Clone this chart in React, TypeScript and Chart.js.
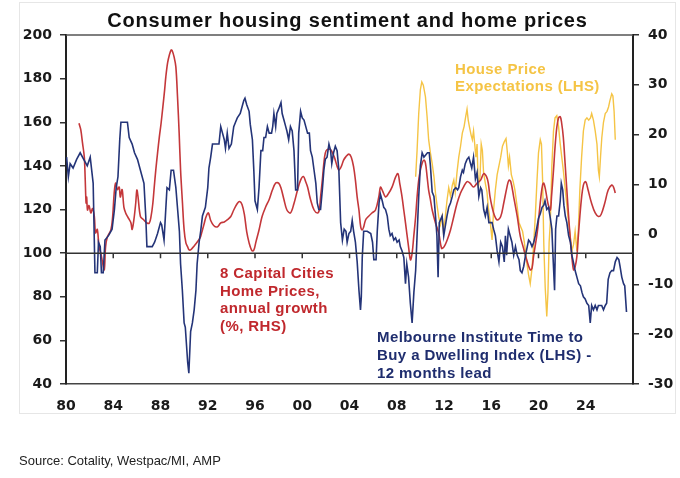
import { useEffect, useRef } from "react";
import { Chart, registerables } from "chart.js";

Chart.register(...registerables);

// Melbourne Institute Time to Buy a Dwelling Index (LHS), 12 months lead: [year, index]
const miSeries: number[][] = [
  [1980.05,144],[1980.2,135],[1980.35,141],[1980.6,139],[1980.9,143],[1981.2,146],[1981.5,143],[1981.8,140],[1982.05,144],[1982.3,132],[1982.45,91],[1982.65,91],[1982.75,105],[1982.9,103],[1983.0,91],[1983.15,91],[1983.3,106],[1983.6,108],[1983.9,111],[1984.1,120],[1984.25,130],[1984.4,135],[1984.55,152],[1984.65,160],[1985.2,160],[1985.35,153],[1985.6,150],[1985.8,146],[1986.05,143],[1986.3,138],[1986.6,132],[1986.75,117],[1986.85,103],[1987.3,103],[1987.5,105],[1987.75,109],[1988.0,114],[1988.1,113],[1988.3,106],[1988.55,130],[1988.75,129],[1988.9,138],[1989.1,138],[1989.3,130],[1989.45,120],[1989.6,110],[1989.7,95],[1989.85,83],[1990.0,68],[1990.1,66],[1990.3,50],[1990.4,45],[1990.55,64],[1990.7,68],[1990.85,74],[1991.0,83],[1991.1,95],[1991.27,105],[1991.4,110],[1991.55,117],[1991.8,121],[1992.0,130],[1992.1,139],[1992.25,144],[1992.4,150],[1992.7,150],[1992.95,150],[1993.1,158],[1993.25,155],[1993.4,152],[1993.5,148],[1993.65,155],[1993.8,148],[1994.0,150],[1994.2,158],[1994.35,160],[1994.5,162],[1994.75,164],[1994.9,167],[1995.05,170],[1995.15,171],[1995.3,168],[1995.5,165],[1995.6,159],[1995.78,152],[1995.9,138],[1996.0,124],[1996.2,120],[1996.34,130],[1996.5,147],[1996.65,147],[1996.76,153],[1996.9,153],[1997.05,158],[1997.2,155],[1997.4,155],[1997.5,158],[1997.6,164],[1997.75,158],[1997.85,164],[1998.0,166],[1998.2,169],[1998.3,164],[1998.45,161],[1998.6,158],[1998.7,156],[1998.85,152],[1999.0,158],[1999.15,156],[1999.3,147],[1999.44,129],[1999.6,129],[1999.7,155],[1999.86,165],[2000.0,162],[2000.15,161],[2000.3,158],[2000.45,155],[2000.6,155],[2000.7,147],[2000.85,144],[2001.0,138],[2001.15,132],[2001.27,123],[2001.4,120],[2001.55,120],[2001.7,129],[2001.83,138],[2001.95,143],[2002.1,144],[2002.26,150],[2002.4,147],[2002.5,141],[2002.65,146],[2002.8,149],[2002.95,147],[2003.1,138],[2003.25,114],[2003.4,106],[2003.55,111],[2003.7,110],[2003.8,105],[2003.95,109],[2004.1,110],[2004.23,115],[2004.35,110],[2004.5,105],[2004.65,96],[2004.8,83],[2004.93,74],[2005.0,80],[2005.08,98],[2005.2,110],[2005.5,110],[2005.8,109],[2005.95,105],[2006.06,97],[2006.25,97],[2006.35,110],[2006.5,123],[2006.62,127],[2006.77,124],[2006.9,121],[2007.05,120],[2007.2,117],[2007.33,111],[2007.45,108],[2007.6,109],[2007.75,106],[2007.9,107],[2008.03,105],[2008.2,106],[2008.3,103],[2008.45,101],[2008.6,98],[2008.74,86],[2008.85,95],[2009.0,89],[2009.15,77],[2009.3,68],[2009.45,82],[2009.6,92],[2009.72,108],[2009.86,126],[2010.0,140],[2010.15,146],[2010.3,144],[2010.45,145],[2010.6,146],[2010.75,146],[2010.85,140],[2011.0,128],[2011.15,126],[2011.28,117],[2011.4,108],[2011.5,89],[2011.6,114],[2011.84,117],[2011.98,108],[2012.1,112],[2012.25,117],[2012.4,121],[2012.55,123],[2012.7,126],[2012.83,129],[2013.0,130],[2013.15,129],[2013.25,130],[2013.4,135],[2013.55,138],[2013.65,137],[2013.8,141],[2013.95,143],[2014.1,144],[2014.25,141],[2014.35,139],[2014.5,144],[2014.66,134],[2014.8,137],[2014.95,126],[2015.1,130],[2015.2,129],[2015.36,120],[2015.5,117],[2015.65,121],[2015.8,114],[2016.07,114],[2016.2,111],[2016.35,108],[2016.5,101],[2016.65,96],[2016.8,105],[2016.95,103],[2017.1,96],[2017.2,108],[2017.3,99],[2017.45,111],[2017.6,108],[2017.75,105],[2017.9,99],[2018.05,103],[2018.2,99],[2018.35,97],[2018.46,92],[2018.6,91],[2018.75,94],[2018.9,99],[2019.05,103],[2019.16,106],[2019.3,105],[2019.45,103],[2019.6,105],[2019.73,108],[2019.87,112],[2020.0,116],[2020.15,118],[2020.3,121],[2020.45,122],[2020.55,124],[2020.7,120],[2020.85,121],[2021.0,116],[2021.13,111],[2021.25,96],[2021.36,83],[2021.45,111],[2021.56,117],[2021.7,117],[2021.84,124],[2021.93,132],[2022.05,129],[2022.15,122],[2022.27,117],[2022.4,114],[2022.55,108],[2022.7,105],[2022.83,99],[2022.95,96],[2023.1,92],[2023.25,89],[2023.4,86],[2023.55,85],[2023.68,82],[2023.8,80],[2023.95,79],[2024.1,77],[2024.25,76],[2024.38,68],[2024.5,76],[2024.65,74],[2024.8,76],[2024.95,74],[2025.07,76],[2025.2,76],[2025.35,76],[2025.5,74],[2025.65,76],[2025.77,77],[2025.9,88],[2026.05,91],[2026.2,92],[2026.35,92],[2026.5,96],[2026.65,98],[2026.8,97],[2026.9,94],[2027.05,89],[2027.2,86],[2027.3,85],[2027.45,73],
];

// 8 Capital Cities Home Prices, annual growth (%, RHS): [year, %]
const priceSeries: number[][] = [
  [1981.1,22.3],[1981.25,21],[1981.4,18.3],[1981.55,15.5],[1981.62,11.5],[1981.7,6.3],[1981.75,7.5],[1981.82,4.9],[1981.95,5.8],[1982.1,4.3],[1982.25,5.2],[1982.4,3.6],[1982.5,0.3],[1982.65,1.0],[1982.8,-2.5],[1982.95,-3.8],[1983.1,-5.7],[1983.24,-7.1],[1983.35,-2.5],[1983.5,-0.5],[1983.8,0.9],[1983.95,3.6],[1984.08,8.3],[1984.2,10.3],[1984.35,9],[1984.5,9.5],[1984.6,7.5],[1984.75,9],[1984.9,5.5],[1985.05,4.3],[1985.2,3.6],[1985.35,3],[1985.5,2.3],[1985.6,1],[1985.75,3],[1985.9,6.2],[1986.0,8.9],[1986.1,7.5],[1986.3,3.6],[1986.55,3],[1986.85,2.3],[1987.05,2.3],[1987.2,3.6],[1987.35,6.2],[1987.47,9.5],[1987.6,12.9],[1987.75,16.3],[1987.9,19.5],[1988.05,22.3],[1988.2,25.6],[1988.35,29],[1988.45,31.6],[1988.6,34.4],[1988.75,36],[1988.9,37],[1989.0,36.8],[1989.15,35.6],[1989.3,33.6],[1989.44,27.6],[1989.58,20.3],[1989.7,12.9],[1989.86,6.3],[1990.0,0.9],[1990.15,-1.7],[1990.3,-2.5],[1990.42,-3.1],[1990.6,-3.0],[1990.85,-2.3],[1991.05,-1.7],[1991.27,-1.0],[1991.4,-0.4],[1991.55,0.9],[1991.7,2.2],[1991.85,3.5],[1992.05,4.3],[1992.25,2.8],[1992.5,1.8],[1992.8,1.5],[1993.1,2.3],[1993.4,2.5],[1993.7,3.0],[1993.95,3.6],[1994.2,4.9],[1994.5,6.2],[1994.7,6.6],[1994.9,6.0],[1995.1,4.0],[1995.3,0.5],[1995.5,-1.7],[1995.7,-3.1],[1995.85,-3.3],[1995.95,-2.8],[1996.06,-1.7],[1996.34,0.9],[1996.6,3.6],[1996.9,5.5],[1997.2,7.0],[1997.47,8.9],[1997.75,10.3],[1998.0,10.3],[1998.2,9.3],[1998.45,7.0],[1998.7,4.9],[1999.0,4.3],[1999.3,6.2],[1999.6,8.9],[1999.86,10.9],[2000.1,11.6],[2000.3,10.5],[2000.45,9.5],[2000.7,7],[2001.0,4.9],[2001.3,4.3],[2001.45,5],[2001.55,7.5],[2001.7,10.9],[2001.83,14.3],[2001.95,16.3],[2002.1,17],[2002.4,17],[2002.7,15.6],[2002.96,13.6],[2003.1,12.9],[2003.3,13.6],[2003.5,14.9],[2003.7,15.6],[2003.95,16.1],[2004.15,15.5],[2004.35,13.5],[2004.5,10.9],[2004.65,7.5],[2004.8,4.9],[2004.95,1.5],[2005.08,0.9],[2005.2,1.5],[2005.36,2.9],[2005.6,3.6],[2005.9,4.3],[2006.2,4.9],[2006.48,7.5],[2006.62,9.5],[2006.77,8.9],[2007.05,7.5],[2007.3,8.2],[2007.6,9.5],[2007.9,11.5],[2008.1,12.2],[2008.25,10.3],[2008.45,7.5],[2008.6,4.8],[2008.74,2.3],[2009.0,-2.5],[2009.16,-5.1],[2009.3,-3.8],[2009.44,-0.4],[2009.6,3.6],[2009.72,7.5],[2009.86,10.9],[2010.0,12.9],[2010.15,14.3],[2010.3,14.9],[2010.43,14.3],[2010.57,11.6],[2010.7,8.9],[2010.85,7],[2011.0,4.9],[2011.28,2.3],[2011.55,0.3],[2011.8,-2.8],[2012.0,-2.5],[2012.27,-1.1],[2012.55,0.9],[2012.83,3.6],[2013.1,6.2],[2013.4,8.3],[2013.65,9.5],[2013.95,10.6],[2014.2,10.3],[2014.5,9.5],[2014.8,10.3],[2015.1,10.9],[2015.36,12.2],[2015.6,11.6],[2015.75,10.3],[2015.9,7.5],[2016.2,4.3],[2016.5,2.9],[2016.8,3.6],[2017.05,6.2],[2017.33,9.5],[2017.5,10.9],[2017.65,10.6],[2017.9,7.5],[2018.2,3.6],[2018.46,-0.4],[2018.7,-2.5],[2019.0,-5.1],[2019.3,-7.1],[2019.45,-6.8],[2019.58,-4.4],[2019.9,0.5],[2020.05,4],[2020.2,7.5],[2020.35,10.0],[2020.45,10.3],[2020.6,8.9],[2020.8,6.2],[2021.0,4.9],[2021.1,7.5],[2021.27,12.9],[2021.4,17.5],[2021.55,21.5],[2021.7,23.4],[2021.84,23.6],[2021.95,22.5],[2022.1,19.5],[2022.25,14.3],[2022.4,8.9],[2022.55,3.6],[2022.7,-1.1],[2022.85,-5.1],[2022.97,-7.1],[2023.1,-6.5],[2023.25,-4.4],[2023.37,-0.4],[2023.5,3.6],[2023.65,7.5],[2023.8,9.9],[2023.95,10.6],[2024.05,10.3],[2024.2,8.9],[2024.5,6.2],[2024.8,4.3],[2025.07,3.6],[2025.3,4.0],[2025.6,6.2],[2025.9,8.9],[2026.2,9.9],[2026.35,9.5],[2026.5,8.3],
];

// House Price Expectations (LHS): [year, index]
const expectSeries: number[][] = [
  [2009.6,135],[2009.72,147],[2009.86,164],[2010.0,175],[2010.12,178.5],[2010.25,177],[2010.43,171.6],[2010.57,162.4],[2010.7,152],[2010.85,146],[2011.0,141],[2011.15,135],[2011.28,127.5],[2011.4,122.4],[2011.55,116.6],[2011.7,113],[2011.85,117],[2011.95,110],[2012.1,116],[2012.25,124],[2012.4,130],[2012.55,126],[2012.7,131],[2012.83,133.5],[2012.95,128],[2013.1,137],[2013.25,144],[2013.4,149],[2013.55,155],[2013.7,158],[2013.85,163],[2013.95,166],[2014.05,161],[2014.15,158],[2014.3,154],[2014.4,152],[2014.5,156],[2014.6,150],[2014.7,144],[2014.8,150],[2014.9,130],[2015.05,135],[2015.15,150],[2015.25,147],[2015.35,137],[2015.5,132],[2015.64,128],[2015.75,121],[2015.9,115],[2016.07,106],[2016.2,120],[2016.35,129],[2016.5,136],[2016.65,140],[2016.8,144],[2016.95,149],[2017.1,151],[2017.25,152.5],[2017.35,147],[2017.45,140],[2017.55,144],[2017.7,136],[2017.85,133],[2018.0,129],[2018.2,121],[2018.35,114],[2018.5,112],[2018.65,110],[2018.8,105],[2019.0,96],[2019.16,90],[2019.3,86],[2019.45,93],[2019.58,103],[2019.73,117],[2019.87,133],[2020.0,146],[2020.15,152],[2020.25,150],[2020.35,133],[2020.45,104],[2020.57,84],[2020.7,71],[2020.8,82],[2020.9,105],[2021.0,114],[2021.13,140],[2021.27,156],[2021.4,162],[2021.55,163],[2021.7,158],[2021.84,150],[2021.97,144],[2022.1,138],[2022.25,130],[2022.4,122],[2022.55,114],[2022.7,107],[2022.83,101],[2022.97,104],[2023.1,110],[2023.25,101],[2023.37,110],[2023.5,129],[2023.65,144],[2023.8,156],[2023.95,161],[2024.1,162],[2024.25,161],[2024.4,162],[2024.5,164],[2024.65,161],[2024.8,156],[2024.95,150],[2025.07,138],[2025.15,135],[2025.25,144],[2025.36,153],[2025.5,160],[2025.65,164],[2025.8,165],[2025.93,167],[2026.05,170],[2026.2,173],[2026.3,172],[2026.4,165],[2026.5,152],
];

const xTickYears = [1980, 1984, 1988, 1992, 1996, 2000, 2004, 2008, 2012, 2016, 2020, 2024];
const baseLineValue = 100;

const titleText = "Consumer housing sentiment and home prices";
const sourceText = "Source: Cotality, Westpac/MI, AMP";
const expectLabel = ["House Price", "Expectations (LHS)"];
const priceLabel = ["8 Capital Cities", "Home Prices,", "annual growth", "(%, RHS)"];
const miLabel = ["Melbourne Institute Time to", "Buy a Dwelling Index (LHS) -", "12 months lead"];

const NAVY = "#243478";
const RED = "#c4373a";
const GOLD = "#f5c445";
const SANS = '"Liberation Sans", Arial, sans-serif';
const TICK_FONT = { family: '"DejaVu Sans", sans-serif', weight: "bold" as const, size: 14 };

const decorPlugin = {
  id: "decor",
  beforeDraw(chart: any) {
    const { ctx, width, height } = chart;
    ctx.save();
    ctx.fillStyle = "#ffffff";
    ctx.fillRect(0, 0, width, height);
    ctx.strokeStyle = "#e6e6e6";
    ctx.lineWidth = 1;
    ctx.strokeRect(19.5, 2.5, 656, 411);
    ctx.restore();
  },
  afterDatasetsDraw(chart: any) {
    const { ctx, chartArea, scales } = chart;
    const xs = scales.x;
    const ys = scales.y;
    ctx.save();
    ctx.strokeStyle = "#555";
    ctx.lineWidth = 1.5;
    ctx.beginPath();
    ctx.moveTo(chartArea.left, chartArea.top);
    ctx.lineTo(chartArea.right, chartArea.top);
    ctx.stroke();
    const y100 = ys.getPixelForValue(baseLineValue);
    ctx.strokeStyle = "#333";
    ctx.lineWidth = 1.5;
    ctx.beginPath();
    ctx.moveTo(chartArea.left, y100);
    ctx.lineTo(chartArea.right, y100);
    for (const yr of xTickYears) {
      const px = xs.getPixelForValue(yr);
      ctx.moveTo(px, y100);
      ctx.lineTo(px, y100 + 5);
    }
    ctx.stroke();
    ctx.restore();
  },
  afterDraw(chart: any) {
    const { ctx, chartArea, scales } = chart;
    const xs = scales.x;
    const ys = scales.y;
    ctx.save();
    // title
    ctx.fillStyle = "#111";
    ctx.font = `bold 20px ${SANS}`;
    (ctx as any).letterSpacing = "0.8px";
    ctx.textAlign = "center";
    ctx.textBaseline = "alphabetic";
    ctx.fillText(titleText, (chartArea.left + chartArea.right) / 2 - 2, 27);
    // annotations
    ctx.textAlign = "left";
    ctx.font = `bold 15px ${SANS}`;
    (ctx as any).letterSpacing = "0.4px";
    const drawBlock = (lines: string[], year: number, val: number, lh: number, color: string) => {
      const x0 = xs.getPixelForValue(year);
      const y0 = ys.getPixelForValue(val);
      ctx.fillStyle = color;
      lines.forEach((l, i) => ctx.fillText(l, x0, y0 + i * lh));
    };
    drawBlock(expectLabel, 2012.93, 182.1, 17, GOLD);
    drawBlock(priceLabel, 1993.04, 88.6, 17.7, "#c0282d");
    drawBlock(miLabel, 2006.33, 59.3, 18, "#1f2d6e");
    // source
    (ctx as any).letterSpacing = "0px";
    ctx.font = `13px ${SANS}`;
    ctx.fillStyle = "#222";
    ctx.fillText(sourceText, 19, 465);
    ctx.restore();
  },
};

export default function App() {
  const ref = useRef<HTMLCanvasElement | null>(null);
  useEffect(() => {
    if (!ref.current) return;
    const toPts = (s: number[][]) => s.map(([x, y]) => ({ x, y }));
    const chart = new Chart(ref.current, {
      type: "line",
      data: {
        datasets: [
          { label: "MI", data: toPts(miSeries), yAxisID: "y", borderColor: NAVY, borderWidth: 1.6, pointRadius: 0, tension: 0 },
          { label: "Prices", data: toPts(priceSeries), yAxisID: "y1", borderColor: RED, borderWidth: 1.6, pointRadius: 0, tension: 0.35 },
          { label: "Expectations", data: toPts(expectSeries), yAxisID: "y", borderColor: GOLD, borderWidth: 1.4, pointRadius: 0, tension: 0 },
        ],
      },
      options: {
        responsive: false,
        animation: false,
        events: [],
        layout: { padding: { top: 35, left: 0, right: 0, bottom: 0 } },
        plugins: { legend: { display: false }, tooltip: { enabled: false }, title: { display: false } },
        scales: {
          x: {
            type: "linear",
            min: 1980,
            max: 2028,
            afterBuildTicks: (s: any) => { s.ticks = xTickYears.map((v) => ({ value: v })); },
            ticks: {
              autoSkip: false,
              maxRotation: 0,
              padding: 6,
              font: TICK_FONT,
              color: "#1a1a1a",
              callback: (v: any) => String(Number(v) % 100).padStart(2, "0"),
            },
            grid: { display: false },
            border: { display: true, color: "#444", width: 1.5 },
            afterFit: (s: any) => { s.height = 94; },
          },
          y: {
            position: "left",
            min: 40,
            max: 200,
            ticks: { stepSize: 20, padding: 8, font: TICK_FONT, color: "#1a1a1a" },
            grid: { drawOnChartArea: false, color: "#333", tickLength: 6, lineWidth: 1.5 },
            border: { display: true, color: "#222", width: 2 },
            afterFit: (s: any) => { s.width = 66; },
          },
          y1: {
            position: "right",
            min: -30,
            max: 40,
            ticks: { stepSize: 10, padding: 9, font: TICK_FONT, color: "#1a1a1a" },
            grid: { drawOnChartArea: false, color: "#333", tickLength: 6, lineWidth: 1.5 },
            border: { display: true, color: "#222", width: 2 },
            afterFit: (s: any) => { s.width = 47; },
          },
        },
      },
      plugins: [decorPlugin],
    } as any);
    return () => chart.destroy();
  }, []);
  return (
    <div style={{ position: "fixed", left: 0, top: 0, width: 680, height: 478, background: "#fff" }}>
      <canvas ref={ref} width={680} height={478} style={{ display: "block" }} />
    </div>
  );
}
